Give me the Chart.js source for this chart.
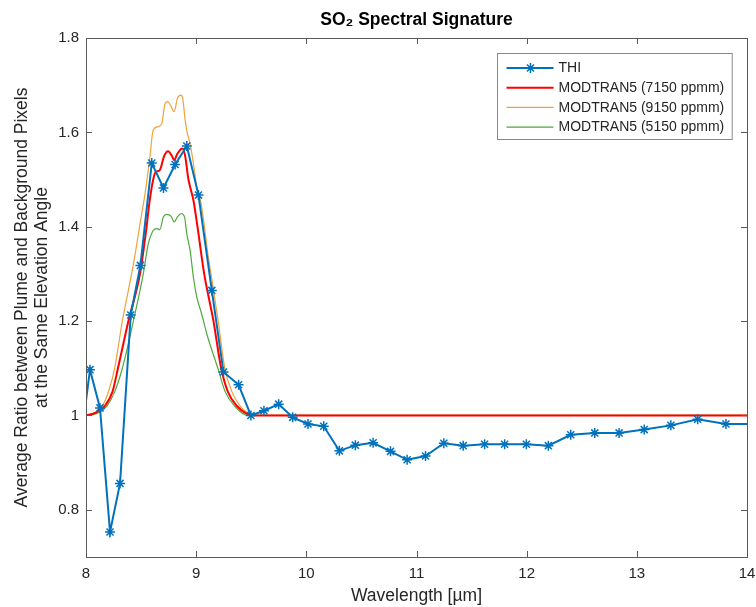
<!DOCTYPE html>
<html>
<head>
<meta charset="utf-8">
<script src="https://cdn.jsdelivr.net/npm/chart.js@4.4.0/dist/chart.umd.min.js"></script>
<style>
  html, body { margin: 0; padding: 0; background: #fff; }
</style>
</head>
<body>
<canvas id="signature" width="756" height="607"></canvas>
<script>
// tick positions
const xTicks = [8, 9, 10, 11, 12, 13, 14];
const yTicks = [0.8, 1, 1.2, 1.4, 1.6, 1.8];

// THI measurements (wavelength, ratio)
const thiX = [7.945, 8.036, 8.127, 8.218, 8.309, 8.406, 8.494, 8.597, 8.703, 8.809, 8.915, 9.021, 9.142, 9.248, 9.385, 9.497,
  9.615, 9.749, 9.876, 10.015, 10.158, 10.3, 10.445, 10.606, 10.764, 10.915, 11.082, 11.248, 11.424, 11.618, 11.8,
  11.997, 12.197, 12.4, 12.618, 12.839, 13.067, 13.309, 13.552, 13.809, 14.05];
const thiY = [0.93, 1.097, 1.016, 0.753, 0.856, 1.213, 1.318, 1.535, 1.482, 1.532, 1.571, 1.467, 1.265, 1.092, 1.065, 1.0,
  1.01, 1.024, 0.996, 0.982, 0.977, 0.925, 0.937, 0.942, 0.924, 0.906, 0.914, 0.941, 0.936, 0.939, 0.939,
  0.939, 0.936, 0.959, 0.963, 0.963, 0.97, 0.979, 0.992, 0.982, 0.982];

// MODTRAN5 7150 ppmm
const m7150X = [8.0, 8.08, 8.17, 8.24, 8.29, 8.385, 8.49, 8.55, 8.575, 8.61, 8.63, 8.67, 8.71, 8.745, 8.78, 8.8, 8.83, 8.875,
  8.9, 8.93, 8.975, 9.012, 9.073, 9.157, 9.227, 9.288, 9.37, 9.45, 9.52, 14.0];
const m7150Y = [1.0, 1.005, 1.02, 1.05, 1.1, 1.2, 1.3, 1.4, 1.45, 1.5, 1.515, 1.52, 1.55, 1.56, 1.55, 1.541, 1.555, 1.566,
  1.55, 1.5, 1.456, 1.4, 1.3, 1.2, 1.1, 1.05, 1.02, 1.005, 1.0, 1.0];

// MODTRAN5 9150 ppmm
const m9150X = [8.0, 8.08, 8.16, 8.21, 8.26, 8.33, 8.43, 8.5, 8.536, 8.58, 8.61, 8.655, 8.688, 8.718, 8.74, 8.77, 8.8, 8.83,
  8.86, 8.878, 8.9, 8.92, 8.945, 8.975, 9.006, 9.045, 9.075, 9.11, 9.135, 9.2, 9.26, 9.325, 9.4, 9.47, 9.55, 14.0];
const m9150Y = [1.0, 1.006, 1.025, 1.055, 1.1, 1.2, 1.32, 1.42, 1.47, 1.548, 1.605, 1.612, 1.619, 1.661, 1.665, 1.656, 1.644, 1.672,
  1.679, 1.672, 1.626, 1.598, 1.576, 1.534, 1.484, 1.449, 1.4, 1.336, 1.3, 1.2, 1.1, 1.05, 1.02, 1.005, 1.0, 1.0];

// MODTRAN5 5150 ppmm
const m5150X = [8.0, 8.1, 8.19, 8.26, 8.33, 8.43, 8.52, 8.566, 8.61, 8.64, 8.67, 8.703, 8.733, 8.773, 8.8, 8.83, 8.864, 8.894,
  8.915, 8.945, 8.975, 9.006, 9.05, 9.1, 9.197, 9.264, 9.348, 9.47, 14.0];
const m5150Y = [1.0, 1.004, 1.02, 1.05, 1.1, 1.2, 1.3, 1.364, 1.392, 1.396, 1.394, 1.421, 1.426, 1.422, 1.41, 1.421, 1.428, 1.421,
  1.385, 1.35, 1.293, 1.251, 1.215, 1.17, 1.1, 1.05, 1.02, 1.0, 1.0];

const seriesLabels = ['THI', 'MODTRAN5 (7150 ppmm)', 'MODTRAN5 (9150 ppmm)', 'MODTRAN5 (5150 ppmm)'];

const textColor = '#262626';
const toPoints = (xs, ys) => xs.map((x, i) => ({ x: x, y: ys[i] }));

Chart.defaults.font.family = '"Liberation Sans", Arial, sans-serif';

// axes box with inward tick marks, like the original figure
const boxTicks = {
  id: 'boxTicks',
  afterDatasetsDraw(chart) {
    const { ctx, chartArea: a, scales: { x, y } } = chart;
    ctx.save();
    ctx.strokeStyle = '#5a5a5a';
    ctx.lineWidth = 1;
    ctx.strokeRect(Math.round(a.left) + 0.5, Math.round(a.top) + 0.5,
      Math.round(a.right) - Math.round(a.left), Math.round(a.bottom) - Math.round(a.top));
    ctx.beginPath();
    x.ticks.forEach(t => {
      const px = Math.round(x.getPixelForValue(t.value)) + 0.5;
      ctx.moveTo(px, a.bottom); ctx.lineTo(px, a.bottom - 6);
      ctx.moveTo(px, a.top); ctx.lineTo(px, a.top + 6);
    });
    y.ticks.forEach(t => {
      const py = Math.round(y.getPixelForValue(t.value)) + 0.5;
      ctx.moveTo(a.left, py); ctx.lineTo(a.left + 6, py);
      ctx.moveTo(a.right, py); ctx.lineTo(a.right - 6, py);
    });
    ctx.stroke();
    ctx.restore();
  }
};

// legend drawn inside the plot area, top right
const insideLegend = {
  id: 'insideLegend',
  afterDraw(chart) {
    const { ctx, chartArea: a } = chart;
    const sets = chart.data.datasets;
    ctx.save();
    ctx.font = '14px "Liberation Sans", Arial, sans-serif';
    const maxW = Math.max(...sets.map(d => ctx.measureText(d.label).width));
    const w = 62 + maxW + 7;
    const h = 86;
    const left = Math.round(a.right - 15 - w) + 0.5;
    const top = Math.round(a.top + 15) + 0.5;
    ctx.fillStyle = '#fff';
    ctx.fillRect(left, top, w, h);
    ctx.strokeStyle = '#8a8a8a';
    ctx.lineWidth = 1;
    ctx.strokeRect(left, top, w, h);
    sets.forEach((d, i) => {
      const cy = top + 14.5 + i * 19.7;
      ctx.strokeStyle = d.borderColor;
      ctx.lineWidth = d.borderWidth;
      ctx.beginPath();
      ctx.moveTo(left + 9, cy); ctx.lineTo(left + 56, cy);
      ctx.stroke();
      if (d.pointStyle === 'star') {
        const r = 5, cx = left + 33;
        ctx.lineWidth = 1.5;
        ctx.beginPath();
        ctx.moveTo(cx - r, cy); ctx.lineTo(cx + r, cy);
        ctx.moveTo(cx, cy - r); ctx.lineTo(cx, cy + r);
        const q = r * 0.7071;
        ctx.moveTo(cx - q, cy - q); ctx.lineTo(cx + q, cy + q);
        ctx.moveTo(cx - q, cy + q); ctx.lineTo(cx + q, cy - q);
        ctx.stroke();
      }
      ctx.fillStyle = textColor;
      ctx.textBaseline = 'middle';
      ctx.textAlign = 'left';
      ctx.fillText(d.label, left + 61, cy + 0.5);
    });
    ctx.restore();
  }
};

new Chart(document.getElementById('signature'), {
  type: 'line',
  data: {
    datasets: [
      {
        label: seriesLabels[0],
        data: toPoints(thiX, thiY),
        borderColor: '#0072BD',
        backgroundColor: '#0072BD',
        borderWidth: 2,
        pointStyle: 'star',
        pointRadius: 5,
        pointBorderWidth: 1.5,
        tension: 0
      },
      {
        label: seriesLabels[1],
        data: toPoints(m7150X, m7150Y),
        borderColor: '#FF0000',
        borderWidth: 2,
        pointRadius: 0,
        cubicInterpolationMode: 'monotone'
      },
      {
        label: seriesLabels[2],
        data: toPoints(m9150X, m9150Y),
        borderColor: '#EFA23A',
        borderWidth: 1.2,
        pointRadius: 0,
        cubicInterpolationMode: 'monotone'
      },
      {
        label: seriesLabels[3],
        data: toPoints(m5150X, m5150Y),
        borderColor: '#4FAA3C',
        borderWidth: 1.2,
        pointRadius: 0,
        cubicInterpolationMode: 'monotone'
      }
    ]
  },
  options: {
    responsive: false,
    animation: false,
    layout: { padding: { right: 9 } },
    plugins: {
      legend: { display: false },
      tooltip: { enabled: false },
      title: {
        display: true,
        text: 'SO₂ Spectral Signature',
        fullSize: false,
        color: '#000',
        font: { size: 17.5, weight: 'bold' },
        padding: { top: 10, bottom: 7 }
      }
    },
    scales: {
      x: {
        type: 'linear',
        min: 8,
        max: 14,
        afterFit: s => { s.height = 50; s.paddingLeft = 0; s.paddingRight = 0; },
        afterBuildTicks: s => { s.ticks = xTicks.map(v => ({ value: v })); },
        grid: { display: false, drawTicks: false },
        border: { display: false },
        ticks: { padding: 8, color: textColor, font: { size: 15 }, maxRotation: 0, callback: v => String(v) },
        title: { display: true, text: 'Wavelength [µm]', color: textColor, font: { size: 17.5 }, padding: 0 }
      },
      y: {
        type: 'linear',
        min: 0.7,
        max: 1.8,
        afterFit: s => { s.width = 86; s.paddingTop = 0; s.paddingBottom = 0; },
        afterBuildTicks: s => { s.ticks = yTicks.map(v => ({ value: v })); },
        grid: { display: false, drawTicks: false },
        border: { display: false },
        ticks: { padding: 7, color: textColor, font: { size: 15 }, callback: v => String(v) },
        title: {
          display: true,
          text: ['Average Ratio between Plume and Background Pixels', 'at the Same Elevation Angle'],
          color: textColor,
          font: { size: 17.5, lineHeight: 1.15 },
          padding: { top: 12, bottom: 0 }
        }
      }
    }
  },
  plugins: [boxTicks, insideLegend]
});
</script>
</body>
</html>
